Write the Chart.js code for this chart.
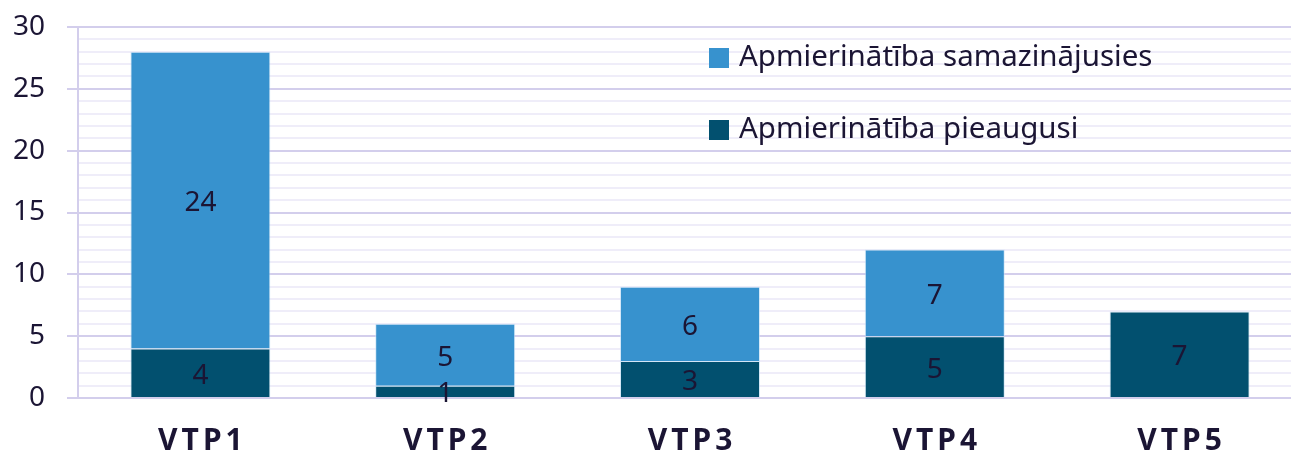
<!DOCTYPE html>
<html lang="lv">
<head>
    <meta charset="UTF-8">
    <title>Apmierinātība VTP</title>
    <script src="https://cdn.jsdelivr.net/npm/chart.js"></script>
    <style>
        html, body { margin: 0; padding: 0; background: #fff; overflow: hidden; }
        #wrap { position: relative; width: 1302px; height: 454px; }
    </style>
</head>
<body>
    <div id="wrap">
        <canvas id="grafiks"></canvas>
    </div>

<script>
    // dati
    const kategorijas = ['VTP1', 'VTP2', 'VTP3', 'VTP4', 'VTP5'];
    const pieaugusi = [4, 1, 3, 5, 7];
    const samazinajusies = [24, 5, 6, 7, 0];
    const yTicks = [0, 5, 10, 15, 20, 25, 30];

    const krasaGaisa = '#3792CE';
    const krasaTumsa = '#02506F';
    const teksts = '#1B1534';
    const fonts = "'Noto Sans', 'Open Sans', sans-serif";
    const linijaGalvena = '#D3CEEC';
    const linijaSika = '#EFEDF9';
    const burtuAtstarpe = 4;

    // vērtības joslu vidū
    const vertibas = {
        id: 'vertibas',
        afterDatasetsDraw(chart) {
            const ctx = chart.ctx;
            ctx.save();
            ctx.font = '28px ' + fonts;
            ctx.fillStyle = teksts;
            ctx.textAlign = 'center';
            ctx.textBaseline = 'middle';
            chart.data.datasets.forEach((ds, i) => {
                const meta = chart.getDatasetMeta(i);
                meta.data.forEach((bar, j) => {
                    const v = ds.data[j];
                    if (!v) return;
                    ctx.fillText(String(v), bar.x, (bar.y + bar.base) / 2 + 3);
                });
            });
            ctx.restore();
        }
    };

    // leģenda grafika iekšpusē, augšējā joslas daļa pirmā
    const legenda = {
        id: 'legenda',
        afterDraw(chart) {
            const ctx = chart.ctx;
            const rindas = chart.data.datasets.slice().reverse();
            ctx.save();
            ctx.font = '29.5px ' + fonts;
            ctx.textBaseline = 'middle';
            rindas.forEach((ds, i) => {
                const y = 58 + i * 72;
                ctx.fillStyle = ds.backgroundColor;
                ctx.fillRect(709, y - 10, 20, 20);
                ctx.fillStyle = teksts;
                ctx.fillText(ds.label, 739, y);
            });
            ctx.restore();
        }
    };

    // atstarpes starp burtiem x ass nosaukumos
    const atstarpes = {
        id: 'atstarpes',
        afterUpdate(chart) {
            const s = chart.scales.x;
            if (s._atstarpes) return;
            const orig = s.drawLabels.bind(s);
            s.drawLabels = function (area) {
                chart.ctx.save();
                chart.ctx.letterSpacing = burtuAtstarpe + 'px';
                orig(area);
                chart.ctx.restore();
            };
            s._atstarpes = true;
        }
    };

    new Chart(document.getElementById('grafiks'), {
        type: 'bar',
        data: {
            labels: kategorijas,
            datasets: [
                {
                    label: 'Apmierinātība pieaugusi',
                    data: pieaugusi,
                    backgroundColor: krasaTumsa,
                    borderColor: 'rgba(200,225,245,0.7)',
                    borderWidth: 1,
                    barPercentage: 0.572,
                    categoryPercentage: 1
                },
                {
                    label: 'Apmierinātība samazinājusies',
                    data: samazinajusies,
                    backgroundColor: krasaGaisa,
                    borderColor: 'rgba(200,225,245,0.7)',
                    borderWidth: 1,
                    barPercentage: 0.572,
                    categoryPercentage: 1
                }
            ]
        },
        options: {
            responsive: true,
            maintainAspectRatio: false,
            animation: false,
            layout: { padding: { top: 27, right: 0, left: 0, bottom: 0 } },
            plugins: {
                legend: { display: false },
                tooltip: { enabled: false }
            },
            scales: {
                x: {
                    stacked: true,
                    grid: { display: false, drawTicks: false },
                    border: { display: false },
                    ticks: {
                        color: teksts,
                        padding: 25,
                        labelOffset: burtuAtstarpe / 2,
                        font: { family: fonts, size: 30, weight: 'bold' }
                    },
                    afterFit(scale) { scale.height = 56; }
                },
                y: {
                    stacked: true,
                    min: 0,
                    max: 30,
                    ticks: {
                        stepSize: 1,
                        autoSkip: false,
                        padding: 22,
                        color: teksts,
                        font: { family: fonts, size: 28 },
                        callback: v => yTicks.includes(v) ? v : ''
                    },
                    grid: {
                        color: c => c.tick && c.tick.value % 5 === 0 ? linijaGalvena : linijaSika,
                        lineWidth: 2,
                        tickColor: c => c.tick && c.tick.value % 5 === 0 ? linijaGalvena : 'rgba(0,0,0,0)',
                        tickLength: 11
                    },
                    border: { display: true, color: linijaGalvena, width: 2 },
                    afterFit(scale) {
                        scale.width = 78;
                        scale.paddingTop = 0;
                        scale.paddingBottom = 0;
                    }
                }
            }
        },
        plugins: [vertibas, legenda, atstarpes]
    });
</script>
</body>
</html>
